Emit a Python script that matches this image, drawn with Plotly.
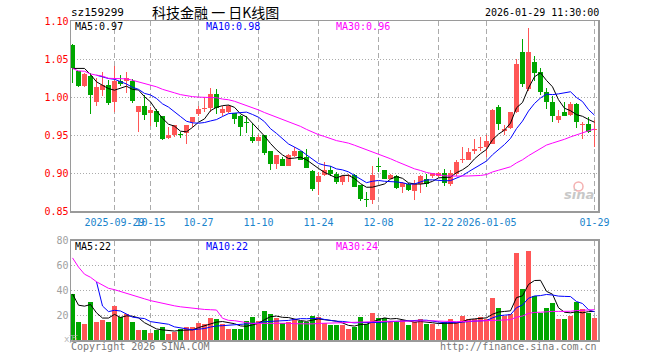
import plotly.graph_objects as go
import pandas as pd

# ---------------- data ----------------
dates = [
    "2025-09-18", "2025-09-19", "2025-09-22", "2025-09-23", "2025-09-24", "2025-09-25", "2025-09-26",
    "2025-09-29", "2025-09-30",
    "2025-10-09", "2025-10-10", "2025-10-13", "2025-10-14", "2025-10-15", "2025-10-16", "2025-10-17",
    "2025-10-20", "2025-10-21", "2025-10-22", "2025-10-23", "2025-10-24", "2025-10-27", "2025-10-28",
    "2025-10-29", "2025-10-30", "2025-10-31",
    "2025-11-03", "2025-11-04", "2025-11-05", "2025-11-06", "2025-11-07", "2025-11-10", "2025-11-11",
    "2025-11-12", "2025-11-13", "2025-11-14", "2025-11-17", "2025-11-18", "2025-11-19", "2025-11-20",
    "2025-11-21", "2025-11-24", "2025-11-25", "2025-11-26", "2025-11-27", "2025-11-28",
    "2025-12-01", "2025-12-02", "2025-12-03", "2025-12-04", "2025-12-05", "2025-12-08", "2025-12-09",
    "2025-12-10", "2025-12-11", "2025-12-12", "2025-12-15", "2025-12-16", "2025-12-17", "2025-12-18",
    "2025-12-19", "2025-12-22", "2025-12-23", "2025-12-24", "2025-12-25", "2025-12-26", "2025-12-29",
    "2025-12-30", "2025-12-31",
    "2026-01-05", "2026-01-06", "2026-01-07", "2026-01-08", "2026-01-09", "2026-01-12", "2026-01-13",
    "2026-01-14", "2026-01-15", "2026-01-16", "2026-01-19", "2026-01-20", "2026-01-21", "2026-01-22",
    "2026-01-23", "2026-01-26", "2026-01-27", "2026-01-28", "2026-01-29",
]

open_ = [1.069, 1.034, 1.015, 1.028, 0.994, 1.010, 1.016, 0.994, 1.022, 1.022,
         1.022, 0.981, 0.989, 0.980, 0.982, 0.975, 0.947, 0.950, 0.952, 0.953,
         0.968, 0.978, 0.984, 0.986, 1.004, 0.980, 0.981, 0.979, 0.976, 0.968,
         0.948, 0.943, 0.950, 0.929, 0.912, 0.919, 0.909, 0.923, 0.930, 0.921,
         0.903, 0.888, 0.898, 0.905, 0.899, 0.889, 0.896, 0.898, 0.884, 0.866,
         0.865, 0.910, 0.905, 0.893, 0.897, 0.882, 0.886, 0.877, 0.886, 0.893,
         0.896, 0.896, 0.900, 0.886, 0.899, 0.917, 0.918, 0.929, 0.933, 0.935,
         0.939, 0.987, 0.956, 0.959, 0.981, 1.059, 1.011, 1.046, 1.033, 1.007,
         0.994, 0.970, 0.981, 0.977, 0.991, 0.964, 0.965, 0.957]
high = [1.070, 1.034, 1.032, 1.032, 1.026, 1.033, 1.023, 1.041, 1.029, 1.033,
        1.024, 0.989, 1.003, 0.987, 0.985, 0.975, 0.961, 0.964, 0.955, 0.964,
        0.974, 0.989, 1.000, 1.012, 1.011, 0.989, 0.990, 0.979, 0.977, 0.975,
        0.966, 0.950, 0.950, 0.929, 0.924, 0.922, 0.926, 0.935, 0.930, 0.932,
        0.904, 0.902, 0.915, 0.909, 0.902, 0.898, 0.899, 0.899, 0.884, 0.876,
        0.909, 0.920, 0.905, 0.899, 0.898, 0.889, 0.887, 0.891, 0.898, 0.899,
        0.901, 0.902, 0.906, 0.904, 0.918, 0.935, 0.933, 0.945, 0.948, 0.950,
        0.984, 0.990, 0.964, 0.981, 1.050, 1.077, 1.091, 1.054, 1.038, 1.012,
        1.002, 0.983, 0.994, 0.994, 0.992, 0.968, 0.974, 0.970]
low = [1.019, 1.013, 1.014, 0.978, 0.988, 1.002, 0.990, 0.981, 1.015, 1.006,
       0.993, 0.955, 0.970, 0.962, 0.961, 0.944, 0.945, 0.948, 0.946, 0.939,
       0.961, 0.975, 0.981, 0.981, 0.978, 0.975, 0.979, 0.965, 0.949, 0.953,
       0.940, 0.942, 0.924, 0.904, 0.906, 0.909, 0.909, 0.922, 0.917, 0.907,
       0.877, 0.872, 0.896, 0.896, 0.886, 0.885, 0.888, 0.882, 0.863, 0.856,
       0.860, 0.902, 0.892, 0.892, 0.880, 0.874, 0.877, 0.865, 0.874, 0.882,
       0.894, 0.895, 0.883, 0.883, 0.896, 0.913, 0.917, 0.926, 0.929, 0.922,
       0.939, 0.957, 0.950, 0.958, 0.980, 1.014, 1.008, 1.021, 1.003, 0.985,
       0.967, 0.966, 0.975, 0.975, 0.960, 0.945, 0.953, 0.934]
close = [1.039, 1.015, 1.031, 1.003, 1.014, 1.016, 0.993, 1.021, 1.017, 1.026,
         0.995, 0.989, 0.977, 0.983, 0.968, 0.945, 0.950, 0.964, 0.950, 0.964,
         0.974, 0.984, 0.986, 1.004, 0.986, 0.985, 0.988, 0.971, 0.961, 0.966,
         0.943, 0.948, 0.927, 0.912, 0.924, 0.910, 0.924, 0.930, 0.918, 0.907,
         0.880, 0.897, 0.904, 0.899, 0.889, 0.897, 0.898, 0.882, 0.866, 0.865,
         0.898, 0.908, 0.893, 0.898, 0.881, 0.887, 0.878, 0.886, 0.897, 0.886,
         0.900, 0.901, 0.887, 0.901, 0.915, 0.919, 0.928, 0.932, 0.935, 0.943,
         0.983, 0.965, 0.958, 0.981, 1.044, 1.018, 1.060, 1.032, 1.007, 0.994,
         0.976, 0.975, 0.976, 0.991, 0.968, 0.965, 0.954, 0.958]
# volume in 万
volume = [37.1, 14.4, 12.8, 30.5, 14.4, 16.1, 14.4, 27.5, 18.3, 20.9,
          14.4, 8.0, 8.0, 5.8, 8.4, 10.5, 4.8, 6.5, 8.6, 10.5,
          10.5, 13.7, 12.9, 17.8, 17.0, 12.9, 8.9, 8.9, 8.9, 15.4,
          18.6, 15.4, 23.4, 21.0, 17.8, 13.5, 14.5, 17.0, 15.4, 14.5,
          19.4, 18.6, 13.6, 12.1, 12.1, 12.1, 8.9, 10.8, 18.6, 12.9,
          21.8, 17.8, 17.8, 14.5, 14.5, 16.2, 12.1, 14.5, 17.0, 12.9,
          12.9, 8.9, 14.5, 17.0, 14.5, 19.4, 17.0, 17.0, 18.6, 17.0,
          33.9, 25.9, 19.4, 21.0, 70.3, 41.1, 71.5, 35.2, 21.9, 25.9,
          29.6, 17.1, 17.1, 19.5, 30.4, 25.1, 21.9, 17.9]

# sessions before the visible window (inferred from where the MA lines start)
pre_close = [1.038, 1.015, 1.031, 1.043, 1.062]
pre_volume = [211.0, 59.5, 16.8, 23.9, 47.8]

tick_dates = ["2025-09-29", "2025-10-15", "2025-10-27", "2025-11-10", "2025-11-24",
              "2025-12-08", "2025-12-22", "2026-01-05", "2026-01-29"]
tick_labels = ["2025-09-29", "10-15", "10-27", "11-10", "11-24",
               "12-08", "12-22", "2026-01-05", "01-29"]
price_ticks = [0.85, 0.90, 0.95, 1.00, 1.05, 1.10]
volume_ticks = [20, 40, 60, 80]

# ---------------- derived series ----------------
n_pre = len(pre_close)
all_close = pd.Series(pre_close + close)
all_vol = pd.Series(pre_volume + volume)
ma5 = all_close.rolling(5).mean().iloc[n_pre:].tolist()
ma10 = all_close.rolling(10).mean().iloc[n_pre:].tolist()
ma30 = all_close.rolling(30, min_periods=1).mean().iloc[n_pre:].tolist()
vma5 = all_vol.rolling(5).mean().iloc[n_pre:].tolist()
vma10 = all_vol.rolling(10).mean().iloc[n_pre:].tolist()
vma30 = all_vol.rolling(30, min_periods=1).mean().iloc[n_pre:].tolist()

RED = "#ff5656"
GREEN = "#00a600"
up = [c >= o for o, c in zip(open_, close)]
colors = [RED if u else GREEN for u in up]
body_base = [min(o, c) for o, c in zip(open_, close)]
body_h = [max(abs(c - o), 0.0012) for o, c in zip(open_, close)]
wick_h = [h - l for h, l in zip(high, low)]

# ---------------- figure ----------------
W, H = 660, 360
FRAME_L, FRAME_R = 71, 598          # plot frame, page pixels
L = FRAME_L
PW = FRAME_R - FRAME_L
R = W - L - PW

def px(x):  # page x -> paper fraction
    return (x - FRAME_L) / PW

def py(y):  # page y -> paper fraction
    return 1 - y / H

fig = go.Figure()
fig.add_trace(go.Bar(x=dates, y=wick_h, base=low, width=1 / 6, marker_color=colors,
                     marker_line_width=0, xaxis="x", yaxis="y", hoverinfo="skip"))
fig.add_trace(go.Bar(x=dates, y=body_h, base=body_base, width=5 / 6, marker_color=colors,
                     marker_line_width=0, xaxis="x", yaxis="y", hoverinfo="skip"))
for s, col in ((ma5, "#000000"), (ma10, "#0000ff"), (ma30, "#ff00ff")):
    fig.add_trace(go.Scatter(x=dates, y=s, mode="lines", line=dict(color=col, width=1),
                             xaxis="x", yaxis="y", hoverinfo="skip"))
fig.add_trace(go.Bar(x=dates, y=volume, width=5 / 6, marker_color=colors,
                     marker_line_width=0, xaxis="x2", yaxis="y2", hoverinfo="skip"))
for s, col in ((vma5, "#000000"), (vma10, "#0000ff"), (vma30, "#ff00ff")):
    fig.add_trace(go.Scatter(x=dates, y=s, mode="lines", line=dict(color=col, width=1),
                             xaxis="x2", yaxis="y2", hoverinfo="skip"))

MONO = "DejaVu Sans Mono"
FRAME = "#9a9a9a"
GRID = "#ababab"
xrange_ = [-0.25, -0.25 + PW / 6]
xcommon = dict(type="category", categoryorder="array", categoryarray=dates,
               range=xrange_, tickvals=tick_dates, showgrid=True, gridcolor=GRID,
               gridwidth=1, griddash="5px,3px", showline=True, mirror=True,
               linecolor=FRAME, linewidth=1.5, ticks="", zeroline=False, fixedrange=True,
               automargin=False)

fig.update_layout(
    width=W, height=H, margin=dict(l=L, r=R, t=0, b=0, pad=0, autoexpand=False),
    paper_bgcolor="white", plot_bgcolor="white", showlegend=False, barmode="overlay",
    bargap=0,
    xaxis=dict(**xcommon, domain=[0, 1], anchor="y", ticktext=tick_labels,
               tickfont=dict(family=MONO, size=10, color="#1a84cc"), tickangle=0,
               ticklabelstandoff=1),
    xaxis2=dict(**xcommon, domain=[0, 1], anchor="y2", matches="x", showticklabels=False),
    yaxis=dict(domain=[py(211.3), py(21.3)], range=[0.85, 1.10], tickvals=price_ticks,
               ticktext=[f"{v:.2f}" for v in price_ticks],
               tickfont=dict(family=MONO, size=10, color="#ff0000"),
               showgrid=True, gridcolor=GRID, griddash="1px,2px", gridwidth=1,
               showline=True, mirror=True, linecolor=FRAME, linewidth=1.5,
               zeroline=False, ticks="", ticklabelstandoff=-1, fixedrange=True,
               automargin=False),
    yaxis2=dict(domain=[py(340), py(240.5)], range=[0, 80], tickvals=volume_ticks,
                tickfont=dict(family=MONO, size=10, color="#a0a0a0"),
                showgrid=True, gridcolor=GRID, griddash="1px,2px", gridwidth=1,
                showline=True, mirror=True, linecolor=FRAME, linewidth=1.5,
                zeroline=False, ticks="", ticklabelstandoff=-1, fixedrange=True,
                automargin=False),
)

def note(text, x, y, color="#000000", size=10, family=MONO, anchor="left"):
    fig.add_annotation(text=text, x=px(x), y=py(y), xref="paper", yref="paper",
                       xanchor=anchor, yanchor="middle", showarrow=False,
                       font=dict(family=family, size=size, color=color))

note("sz159299", 69, 13, size=11)
note("科技金融 一 日K线图", 150, 12.5, size=14, family="Noto Sans CJK SC")
note("2026-01-29 11:30:00", 601, 13, anchor="right")
note("MA5:0.97", 73, 26.5)
note("MA10:0.98", 204, 26.5, color="#0000ff")
note("MA30:0.96", 334, 26.5, color="#ff00ff")
note("MA5:22", 73, 246.5)
note("MA10:22", 204, 246.5, color="#0000ff")
note("MA30:24", 334, 246.5, color="#ff00ff")
note("x万", 62, 339, color="#b8b8b8", size=9)
note("Copyright 2026 SINA.COM", 69, 346.5, color="#777777")
note("http://finance.sina.com.cn", 599, 346.5, color="#777777", anchor="right")
note("<b><i>sina</i></b>", 596, 194, color="#c8c8c8", size=13, family="DejaVu Sans", anchor="right")
fig.add_shape(type="circle", xref="paper", yref="paper", x0=px(574), x1=px(583),
              y0=py(191), y1=py(182), line=dict(color="#f4b0b0", width=1.5))

# remove the browser's default 8px body margin so the figure sits at the page origin
fig.write_html("out.html", config={"displayModeBar": False, "staticPlot": True},
               post_script="document.body.style.margin='0';document.body.style.padding='0';")
